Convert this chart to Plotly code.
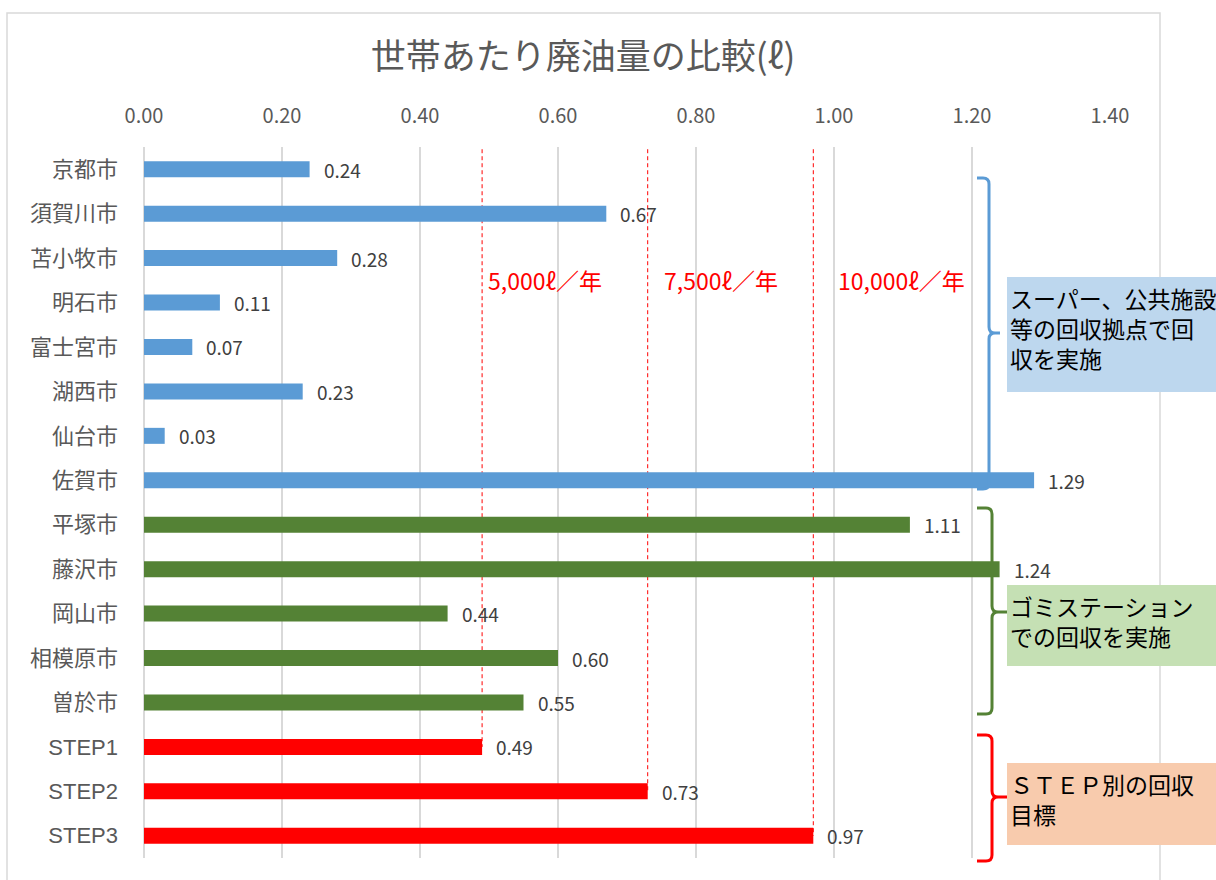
import plotly.graph_objects as go

# ---- data -------------------------------------------------------------
cities_depot = ["京都市", "須賀川市", "苫小牧市", "明石市", "富士宮市", "湖西市", "仙台市", "佐賀市"]
values_depot = [0.24, 0.67, 0.28, 0.11, 0.07, 0.23, 0.03, 1.29]

cities_station = ["平塚市", "藤沢市", "岡山市", "相模原市", "曽於市"]
values_station = [1.11, 1.24, 0.44, 0.60, 0.55]

steps = ["STEP1", "STEP2", "STEP3"]
values_steps = [0.49, 0.73, 0.97]
step_labels = ["5,000ℓ／年", "7,500ℓ／年", "10,000ℓ／年"]

group_notes = ["スーパー、公共施設<br>等の回収拠点で回<br>収を実施",
               "ゴミステーション<br>での回収を実施",
               "ＳＴＥＰ別の回収<br>目標"]

title_text = "世帯あたり廃油量の比較(ℓ)"

# ---- styling ----------------------------------------------------------
FONT = "Noto Sans CJK JP"
LABEL_FONT = "Liberation Sans, Noto Sans CJK JP"
BLUE, GREEN, RED = "#5b9bd5", "#548235", "#ff0000"
GRID = "#d9d9d9"
TXT = "#595959"

FIG_W, FIG_H = 1216, 880
L, R, T, B = 144, 106, 147, 22
PW, PH = FIG_W - L - R, FIG_H - T - B


def px(xp):
    return (xp - L) / PW


def py(yp):
    return (T + PH - yp) / PH


categories = cities_depot + cities_station + steps
values = values_depot + values_station + values_steps
colors = [BLUE] * len(cities_depot) + [GREEN] * len(cities_station) + [RED] * len(steps)

fig = go.Figure(go.Bar(
    y=categories, x=values, orientation="h",
    marker=dict(color=colors, line=dict(width=0)),
    width=0.36, hoverinfo="x+y",
))

annotations = []
# value labels
for c, v in zip(categories, values):
    annotations.append(dict(
        x=v, y=c, xref="x", yref="y", text=f"{v:.2f}", showarrow=False,
        xanchor="left", yanchor="middle", xshift=12, yshift=0,
        font=dict(family=FONT, size=19, color="#404040"),
    ))

shapes = []
# chart frame
shapes.append(dict(type="rect", xref="paper", yref="paper",
                   x0=px(7), x1=px(1160), y0=py(13), y1=py(905),
                   line=dict(color=GRID, width=1.5), fillcolor="rgba(0,0,0,0)",
                   layer="below"))

# dashed target lines reaching down to each STEP bar
label_left_px = [486, 662, 836]
for s, v, lab, lx in zip(steps, values_steps, step_labels, label_left_px):
    idx = categories.index(s)
    shapes.append(dict(type="line", xref="x", yref="y", x0=v, x1=v,
                       y0=-0.45, y1=idx, layer="below",
                       line=dict(color=RED, width=1, dash="4px,3px")))
    annotations.append(dict(
        x=px(lx), y=py(280), xref="paper", yref="paper", text=lab,
        showarrow=False, xanchor="left", yanchor="middle",
        font=dict(family=FONT, size=23, color=RED),
    ))


def brace(x_left, x_mid, x_nub, y_top, y_mid, y_bot, r=6):
    pts = []
    pts.append(f"M {px(x_left)},{py(y_top)}")
    pts.append(f"L {px(x_mid - r)},{py(y_top)}")
    pts.append(f"Q {px(x_mid)},{py(y_top)} {px(x_mid)},{py(y_top + r)}")
    pts.append(f"L {px(x_mid)},{py(y_mid - r)}")
    pts.append(f"Q {px(x_mid)},{py(y_mid)} {px(x_mid + r)},{py(y_mid)}")
    pts.append(f"L {px(x_nub)},{py(y_mid)}")
    pts.append(f"M {px(x_mid + r)},{py(y_mid)}")
    pts.append(f"Q {px(x_mid)},{py(y_mid)} {px(x_mid)},{py(y_mid + r)}")
    pts.append(f"L {px(x_mid)},{py(y_bot - r)}")
    pts.append(f"Q {px(x_mid)},{py(y_bot)} {px(x_mid - r)},{py(y_bot)}")
    pts.append(f"L {px(x_left)},{py(y_bot)}")
    return " ".join(pts)


brace_specs = [
    (BLUE, (977, 989, 1000, 178, 333, 489), "#bdd7ee", (277, 392), 279),
    (GREEN, (977, 992, 1007, 508, 612, 714), "#c5e0b4", (585, 666), 587),
    (RED, (977, 992, 1007, 735, 797, 861), "#f8cbad", (763, 845), 765),
]
for (col, geo, fill, (bt, bb), ttop), note in zip(brace_specs, group_notes):
    shapes.append(dict(type="path", xref="paper", yref="paper",
                       path=brace(*geo), line=dict(color=col, width=3),
                       fillcolor="rgba(0,0,0,0)"))
    shapes.append(dict(type="rect", xref="paper", yref="paper",
                       x0=px(1007), x1=px(1240), y0=py(bt), y1=py(bb),
                       line=dict(width=0), fillcolor=fill))
    annotations.append(dict(
        x=px(1008), y=py(ttop), xref="paper", yref="paper", text=note,
        showarrow=False, xanchor="left", yanchor="top", align="left",
        font=dict(family=FONT, size=23, color="#000000"),
    ))

fig.update_layout(
    width=FIG_W, height=FIG_H,
    margin=dict(l=L, r=R, t=T, b=B, pad=0),
    paper_bgcolor="white", plot_bgcolor="white",
    showlegend=False,
    title=dict(text=title_text, x=583 / FIG_W, xanchor="center", xref="container",
               y=(FIG_H - 57) / FIG_H, yanchor="middle", yref="container",
               font=dict(family=FONT, size=35, color=TXT)),
    xaxis=dict(range=[0, 1.4], dtick=0.2, tickformat=".2f", side="top",
               showgrid=True, gridcolor=GRID, gridwidth=1.5,
               zeroline=True, zerolinecolor=GRID, zerolinewidth=1.5,
               showline=False, ticks="", ticklabelstandoff=19,
               tickfont=dict(family=FONT, size=20, color=TXT), fixedrange=True),
    yaxis=dict(range=[len(categories) - 0.5, -0.5], type="category",
               showgrid=False, zeroline=False, showline=False, ticks="",
               ticklabelstandoff=25,
               tickfont=dict(family=LABEL_FONT, size=22, color=TXT), fixedrange=True),
    shapes=shapes, annotations=annotations,
    bargap=0.6,
)

fig.write_html("out.html")
